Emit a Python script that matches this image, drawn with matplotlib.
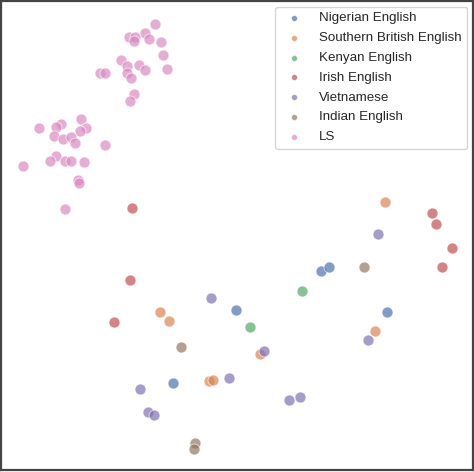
import matplotlib.pyplot as plt
import seaborn as sns
import numpy as np

sns.set_style("white")
plt.rcParams['font.family'] = ['Liberation Sans', 'DejaVu Sans']

# t-SNE style embedding, coordinates (y up)
nigerian_x = [320, 328, 235, 172, 386]
nigerian_y = [270, 266, 309, 383, 311]
british_x = [384, 159, 168, 374, 259, 208, 212]
british_y = [201, 311, 320, 330, 354, 381, 380]
kenyan_x = [301, 249]
kenyan_y = [290, 326]
irish_x = [131, 129, 113, 431, 435, 451, 441]
irish_y = [207, 279, 321, 212, 223, 247, 266]
viet_x = [377, 210, 263, 228, 139, 147, 153, 288, 299, 367]
viet_y = [233, 297, 351, 378, 389, 412, 415, 400, 397, 340]
indian_x = [363, 180, 194, 193]
indian_y = [266, 347, 443, 449]
ls_x = [154, 128, 134, 133, 144, 148, 160, 162, 166, 120, 126, 138, 144, 126, 130,
        99, 104, 133, 129, 80, 85, 79, 60, 55, 38, 53, 62, 70, 74, 104, 55, 49,
        64, 70, 83, 22, 77, 78, 64]
ls_y = [23, 36, 36, 40, 32, 38, 41, 54, 68, 59, 65, 64, 69, 72, 77,
        72, 72, 93, 100, 118, 127, 130, 123, 126, 127, 135, 138, 136, 142, 144, 155, 160,
        160, 160, 161, 165, 179, 182, 208]

groups = [
    ("Nigerian English", nigerian_x, nigerian_y),
    ("Southern British English", british_x, british_y),
    ("Kenyan English", kenyan_x, kenyan_y),
    ("Irish English", irish_x, irish_y),
    ("Vietnamese", viet_x, viet_y),
    ("Indian English", indian_x, indian_y),
    ("LS", ls_x, ls_y),
]
colors = sns.color_palette("deep")

fig = plt.figure(figsize=(4.74, 4.72), dpi=100)
ax = fig.add_axes([0.003, 0.004, 0.994, 0.993])
for (name, xs, ys), c in zip(groups, colors):
    ax.scatter(xs, -np.array(ys), s=62, color=c, alpha=0.7,
               edgecolor="white", linewidth=0.6, label=name)

ax.set_xlim(0, 472)
ax.set_ylim(-470, 0)
ax.set_xticks([])
ax.set_yticks([])
for sp in ax.spines.values():
    sp.set_color("#444444")
    sp.set_linewidth(1.6)

leg = ax.legend(loc="upper right", fontsize=9.6, markerscale=0.55,
                borderaxespad=0.4, labelspacing=0.56, handletextpad=0.9,
                borderpad=0.4, frameon=True)
leg.get_frame().set_edgecolor("#cccccc")

fig.savefig("out.png", dpi=100)
